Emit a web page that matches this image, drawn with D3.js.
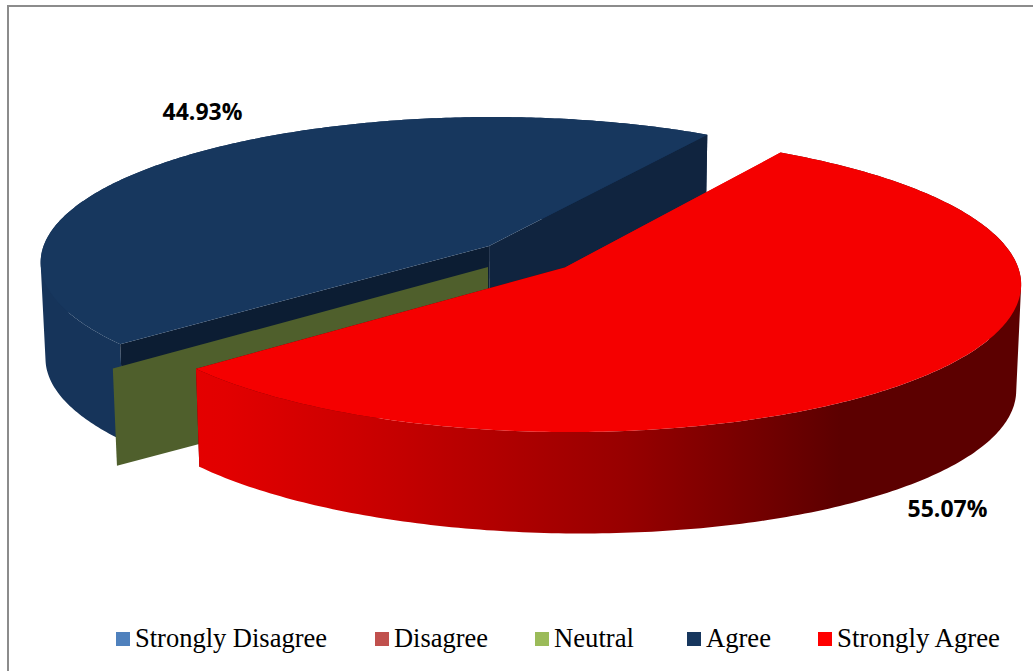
<!DOCTYPE html>
<html>
<head>
<meta charset="utf-8">
<script src="https://cdn.jsdelivr.net/npm/d3@7"></script>
<style>
  html, body { margin: 0; padding: 0; background: #fff; }
  svg { display: block; }
</style>
</head>
<body>
<svg id="chart" width="1033" height="671"></svg>
<script>
// Survey responses
const categories = ["Strongly Disagree", "Disagree", "Neutral", "Agree", "Strongly Agree"];
const shares = [0, 0, 0, 44.93, 55.07];
const swatchColors = ["#4f81bd", "#c0504d", "#9bbb59", "#17375e", "#ff0000"];
const valueLabels = ["44.93%", "55.07%"];

// 3D pie set-up: the disc lies in a plane seen in perspective
const width = 1033, height = 671;
const firstAngle = 230 * Math.PI / 180;
const explode = 0.1125;
const originX = 527, originY = 256.5;
const radiusX = 449, radiusY = 144.8, perspective = 0.1065;
const thickness = 101, thicknessSkew = 0.045, wallTaper = 0.99;

const sx = d3.scaleLinear().domain([-1, 1]).range([originX - radiusX, originX + radiusX]);
const sy = d3.scaleLinear().domain([-1, 1]).range([originY + radiusY, originY - radiusY]);

// Map a point of the disc plane (u right, v away, z 0 top / 1 bottom) to the screen
function project(u, v, z) {
  const w = 1 + perspective * v;
  const x = originX + (sx(u / w) - originX) * (z ? wallTaper : 1);
  return [x, sy(v / w) + z * thickness * (1 + thicknessSkew * u)];
}

const slices = d3.pie().sort(null).value(d => d)
  .startAngle(firstAngle).endAngle(firstAngle + 2 * Math.PI)(shares);

// Disc-plane geometry of one slice, shifted outward along its bisector
function geometry(s) {
  const mid = (s.startAngle + s.endAngle) / 2;
  const cu = explode * Math.sin(mid), cv = explode * Math.cos(mid);
  const rim = a => [cu + Math.sin(a), cv + Math.cos(a)];
  return { cu, cv, rim };
}

const line = d3.line();
const svg = d3.select("#chart");

// Horizontal shading of the red outer wall
const defs = svg.append("defs");
const wallLeft = 194, wallRight = 1020;
const grad = defs.append("linearGradient").attr("id", "redWall")
  .attr("gradientUnits", "userSpaceOnUse")
  .attr("x1", wallLeft).attr("x2", wallRight).attr("y1", 0).attr("y2", 0);
[[194, "#e40000"], [225, "#e20000"], [358, "#cc0000"], [492, "#b20000"],
 [626, "#970000"], [760, "#730000"], [840, "#5c0000"], [1020, "#5c0000"]]
  .forEach(([x, c]) => grad.append("stop")
    .attr("offset", (x - wallLeft) / (wallRight - wallLeft)).attr("stop-color", c));

function rimPoints(g, a0, a1, z) {
  return d3.range(0, 241).map(i => {
    const [u, v] = g.rim(a0 + (a1 - a0) * i / 240);
    return project(u, v, z);
  });
}

// Outer wall as one path of same-handed quads, so folds at the disc's extremes stay filled
function wallPath(g, a0, a1) {
  const top = rimPoints(g, a0, a1, 0), bottom = rimPoints(g, a0, a1, 1);
  return d3.range(top.length - 1).map(i => {
    const quad = [top[i], top[i + 1], bottom[i + 1], bottom[i]];
    if (d3.polygonArea(quad) < 0) quad.reverse();
    return line(quad) + "Z";
  }).join("");
}

// Cut faces of a slice that opens toward the viewer lie over its far wall;
// those of a slice that opens away lie behind its near wall.
function drawSlice(s, topFill, sideFill, cutStartFill, cutEndFill, cutsInFront) {
  const g = geometry(s);
  const c0 = project(g.cu, g.cv, 0), c1 = project(g.cu, g.cv, 1);
  const a0 = s.startAngle, a1 = s.endAngle;
  const start = g.rim(a0), end = g.rim(a1);
  const startTop = project(start[0], start[1], 0), startBottom = project(start[0], start[1], 1);
  const endTop = project(end[0], end[1], 0), endBottom = project(end[0], end[1], 1);

  const drawCuts = () => {
    svg.append("path").attr("fill", cutEndFill)
      .attr("d", line([c0, endTop, endBottom, c1]) + "Z");
    svg.append("path").attr("fill", cutStartFill)
      .attr("d", line([c0, startTop, startBottom, c1]) + "Z");
  };
  if (!cutsInFront) drawCuts();
  svg.append("path").attr("fill", sideFill).attr("d", wallPath(g, a0, a1));
  if (cutsInFront) drawCuts();
  svg.append("path").attr("fill", topFill)
    .attr("d", line([c0].concat(rimPoints(g, a0, a1, 0))) + "Z");
}

// Frame around the chart area
svg.append("path").attr("fill", "none").attr("stroke", "#8c8c8c").attr("stroke-width", 2)
  .attr("d", "M8,671V6H1033");

// Agree first, the zero-width Neutral wall over it, Strongly Agree in front
const agree = slices[categories.indexOf("Agree")];
const neutral = slices[categories.indexOf("Neutral")];
const stronglyAgree = slices[categories.indexOf("Strongly Agree")];

drawSlice(agree, "#17375e", "#16345a", "#0c1d33", "#10243f", true);

const ng = geometry(neutral);
const nRim = ng.rim(neutral.startAngle);
svg.append("path").attr("fill", "#4f5f2c").attr("d", line([
  project(ng.cu, ng.cv, 0), project(nRim[0], nRim[1], 0),
  project(nRim[0], nRim[1], 1), project(ng.cu, ng.cv, 1)
]) + "Z");

drawSlice(stronglyAgree, "#f50000", "url(#redWall)", "#e20000", "#5c0000", false);

// Value labels
svg.append("g").selectAll("text").data(valueLabels).join("text")
  .attr("x", (d, i) => [202.5, 947.5][i])
  .attr("y", (d, i) => [120, 517][i])
  .attr("text-anchor", "middle")
  .attr("font-family", "'Open Sans', sans-serif")
  .attr("font-weight", 700).attr("font-size", 23).attr("fill", "#000")
  .text(d => d);

// Legend
const legendX = [116, 375, 535, 687, 818];
const legendTextWidth = [192, 94, 80, 65, 163];
const legend = svg.append("g").selectAll("g").data(categories).join("g")
  .attr("transform", (d, i) => `translate(${legendX[i]},632)`);
legend.append("rect").attr("width", 14).attr("height", 14)
  .attr("fill", (d, i) => swatchColors[i]);
legend.append("text").attr("x", 19).attr("y", 15)
  .attr("font-family", "'Liberation Serif', serif").attr("font-size", 27).attr("fill", "#000")
  .attr("textLength", (d, i) => legendTextWidth[i]).attr("lengthAdjust", "spacingAndGlyphs")
  .text(d => d);
</script>
</body>
</html>
